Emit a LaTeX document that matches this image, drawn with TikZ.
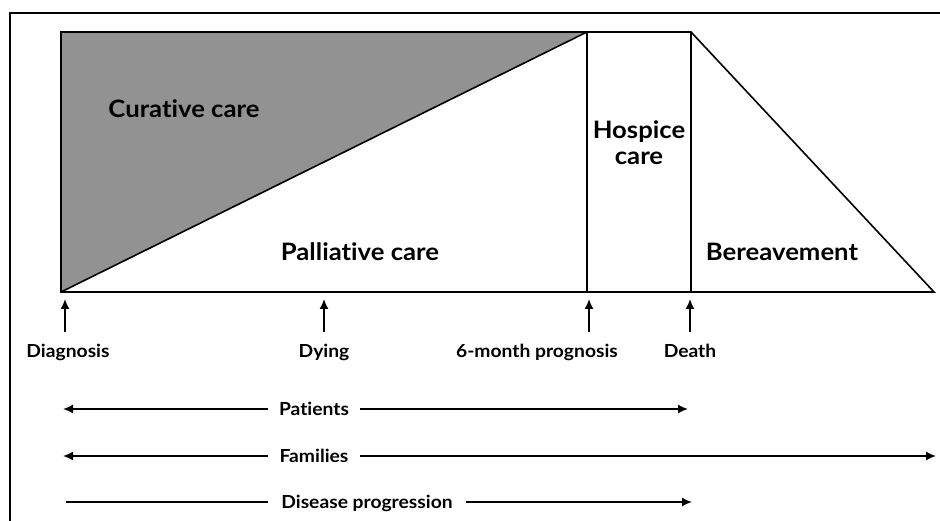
\documentclass[tikz,border=0pt]{standalone}
\usepackage{fontspec}
\setmainfont{Lato}[Ligatures={NoCommon}, FakeStretch=1.07]
\usetikzlibrary{arrows.meta}
\definecolor{curgrey}{RGB}{146,146,146}
\tikzset{
  shapeline/.style={line width=1.6pt, line join=miter},
  bigtxt/.style={font=\fontsize{24}{28}\selectfont\bfseries, inner sep=0pt, anchor=base},
  smalltxt/.style={font=\fontsize{18}{21}\selectfont\bfseries, inner sep=0pt, anchor=base},
  midtxt/.style={font=\fontsize{18}{21}\selectfont\bfseries, inner xsep=11pt, inner ysep=0pt, anchor=base},
  arr/.style={line width=1.6pt, -{Latex[length=10pt,width=9pt]}},
  plainline/.style={line width=1.6pt},
}
\begin{document}
\begin{tikzpicture}[x=1pt,y=-1pt]
\useasboundingbox (0,0) rectangle (940,521);
% frame
\draw[line width=2.2pt] (10,530) -- (10,13) -- (950,13);
% shape corners
\coordinate (TL) at (61,32);
\coordinate (BL) at (61,292);
\coordinate (HL) at (587,32);
\coordinate (HLb) at (587,292);
\coordinate (HR) at (691,32);
\coordinate (HRb) at (691,292);
\coordinate (BR) at (934,292);
\fill[curgrey] (TL) -- (HL) -- (BL) -- cycle;
\draw[shapeline] (BL) -- (TL) -- (HR) -- (BR) -- cycle;
\draw[shapeline] (BL) -- (HL);
\draw[shapeline] (HL) -- (HLb);
\draw[shapeline] (HR) -- (HRb);
% region labels
\node[bigtxt] (cur) at (184,118) {Curative care};
\node[bigtxt] (pal) at (360,261) {Palliative care};
\node[bigtxt] (hos1) at (639,139) {Hospice};
\node[bigtxt] (hos2) at (639,165) {care};
\node[bigtxt] (ber) at (782,261) {Bereavement};
% timeline markers
\coordinate (mDiag) at (65,292);
\coordinate (mDying) at (324,292);
\coordinate (mSix) at (589,292);
\coordinate (mDeath) at (690,292);
\node[smalltxt] (diag) at (68,357) {Diagnosis};
\node[smalltxt] (dying) at (324,357) {Dying};
\node[smalltxt] (six) at (537,357) {6-month prognosis};
\node[smalltxt] (death) at (690,357) {Death};
\foreach \m in {mDiag,mDying,mSix,mDeath}{
  \draw[arr] ([yshift=-40pt]\m) -- ([yshift=-7pt]\m);
}
% bottom arrows
\coordinate (pL) at (63,409);
\coordinate (pR) at (688,409);
\coordinate (fL) at (63,456);
\coordinate (fR) at (936,456);
\coordinate (dL) at (66,502);
\coordinate (dR) at (692,502);
\node[midtxt] (pat) at (314,415.5) {Patients};
\node[midtxt] (fam) at (314,462.5) {Families};
\node[midtxt, inner xsep=13pt] (dis) at (367,508.5) {Disease progression};
\draw[arr] (pat.west |- pL) -- (pL);
\draw[arr] (pat.east |- pR) -- (pR);
\draw[arr] (fam.west |- fL) -- (fL);
\draw[arr] (fam.east |- fR) -- (fR);
\draw[plainline] (dis.west |- dL) -- (dL);
\draw[arr] (dis.east |- dR) -- (dR);
\end{tikzpicture}
\end{document}
